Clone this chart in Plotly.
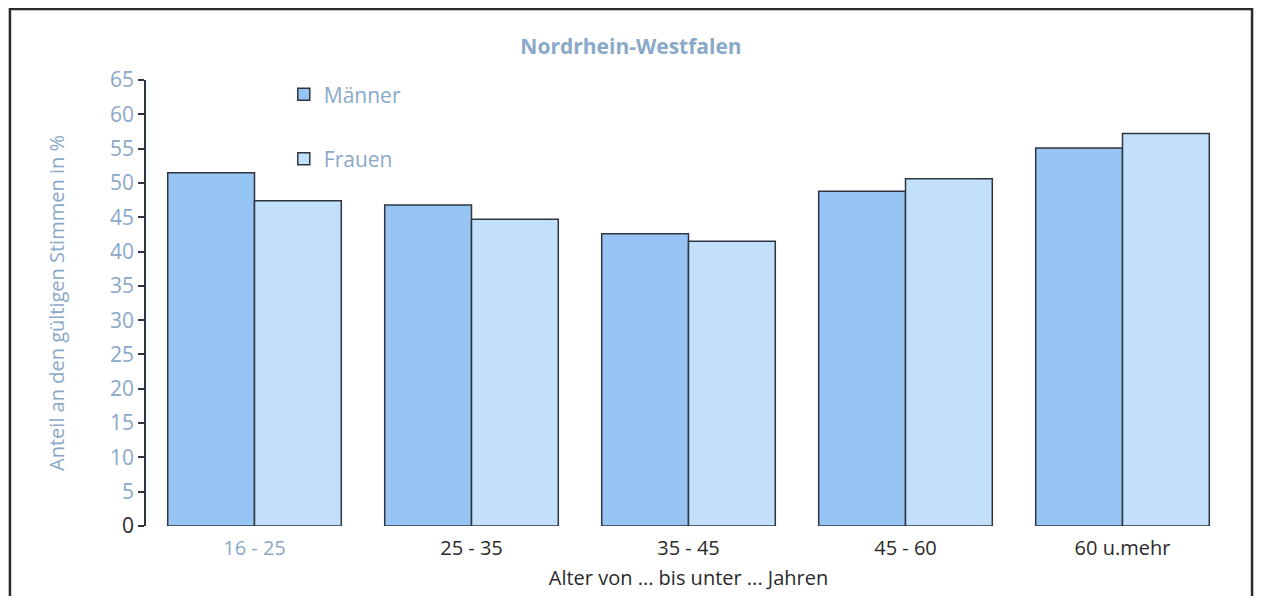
import plotly.graph_objects as go

# Altersgruppen und Anteile (in %)
age_groups = ["16 - 25", "25 - 35", "35 - 45", "45 - 60", "60 u.mehr"]
maenner = [51.5, 46.8, 42.6, 48.8, 55.1]
frauen = [47.4, 44.7, 41.5, 50.6, 57.2]
y_ticks = list(range(0, 70, 5))

BLUE_TXT = "#8aa8c8"
DARK_TXT = "#2a2a2a"

x_ticktext = [
    f"<span style='color:{BLUE_TXT}'>{g}</span>" if i == 0 else g
    for i, g in enumerate(age_groups)
]
y_ticktext = [
    str(v) if v == 0 else f"<span style='color:{BLUE_TXT}'>{v}</span>"
    for v in y_ticks
]

fig = go.Figure()
fig.add_trace(go.Bar(
    x=age_groups, y=maenner, name="Männer", legendgroup="m",
    marker=dict(color="#97c5f3", line=dict(color="#2f3540", width=1.5)),
))
fig.add_trace(go.Bar(
    x=age_groups, y=frauen, name="Frauen", legendgroup="f",
    marker=dict(color="#c3e0fa", line=dict(color="#2f3540", width=1.5)),
))

# page has an 8px body margin, so the figure is a bit smaller than the window
fig.update_layout(
    width=1246, height=588,
    margin=dict(l=138, r=23, t=72, b=70),
    paper_bgcolor="white", plot_bgcolor="white",
    font=dict(family="Open Sans, Noto Sans, sans-serif", color=DARK_TXT, size=19),
    barmode="group", bargap=0.2, bargroupgap=0,
    title=dict(text="<b>Nordrhein-Westfalen</b>", x=0.5, xanchor="center",
               y=0.935, yanchor="middle",
               font=dict(size=21, color=BLUE_TXT)),
    legend=dict(x=0.127, y=1.013, xanchor="left", yanchor="top",
                bgcolor="rgba(0,0,0,0)", tracegroupgap=34,
                traceorder="grouped",
                font=dict(size=21, color=BLUE_TXT)),
    showlegend=True,
)

fig.update_xaxes(
    tickmode="array", tickvals=age_groups, ticktext=x_ticktext,
    showline=False, ticks="", showgrid=False, ticklabelstandoff=8,
    title=dict(text="Alter von ... bis unter ... Jahren", standoff=10,
               font=dict(size=20, color=DARK_TXT)),
    tickfont=dict(size=20, color=DARK_TXT),
)
fig.update_yaxes(
    range=[0, 65], tickmode="array", tickvals=y_ticks, ticktext=y_ticktext,
    showline=True, linecolor="#2f3540", linewidth=1.5,
    ticks="outside", ticklen=6, tickcolor="#2f3540", tickwidth=1.5,
    showgrid=False, zeroline=False,
    tickfont=dict(size=21, color=DARK_TXT),
    title=dict(text="Anteil an den gültigen Stimmen in %", standoff=40,
               font=dict(size=20, color=BLUE_TXT)),
)

# Rahmen um die Grafik
fig.add_shape(type="rect", xref="paper", yref="paper",
              x0=-0.1254, x1=1.0194, y0=-0.2, y1=1.159,
              line=dict(color="#2a2a2a", width=2.5))

fig.write_html("out.html")
